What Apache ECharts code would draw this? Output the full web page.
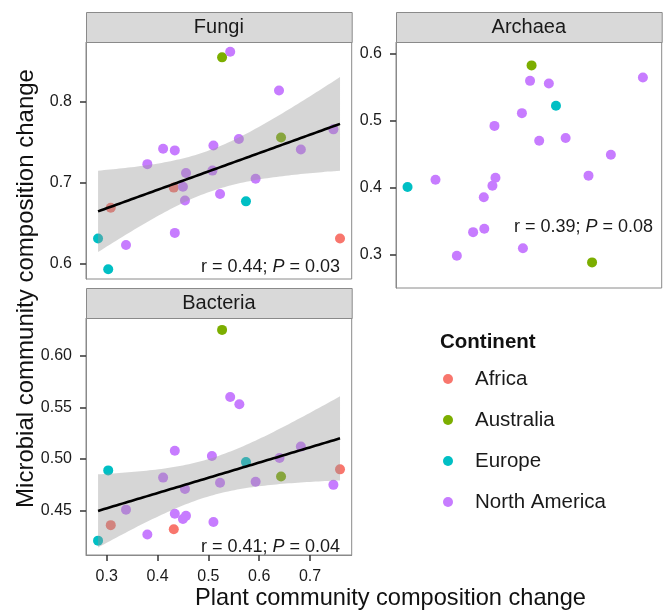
<!DOCTYPE html>
<html><head><meta charset="utf-8">
<script src="https://cdn.jsdelivr.net/npm/echarts@6/dist/echarts.min.js"></script>
<style>html,body{margin:0;padding:0;background:#fff}#c{width:668px;height:612px}</style>
</head><body><div id="c"></div>
<script>
// ---- data ----
const continents = ['Africa', 'Australia', 'Europe', 'North America'];
const continentColors = ['#F8766D', '#7CAE00', '#00BFC4', '#C77CFF'];

const fungiX = [0.543,0.527,0.639,0.746,0.643,0.411,0.434,0.510,0.560,0.682,0.380,0.456,0.508,0.450,0.432,0.593,0.523,0.454,0.574,0.308,0.434,0.283,0.338,0.759,0.303];
const fungiY = [0.862,0.855,0.814,0.766,0.756,0.742,0.740,0.746,0.754,0.741,0.723,0.712,0.715,0.695,0.694,0.705,0.686,0.678,0.677,0.669,0.638,0.631,0.623,0.631,0.593];
const fungiC = [3,1,3,3,1,3,3,3,3,3,3,3,3,3,0,3,3,3,2,0,3,2,3,0,2];

const archaeaX = [0.526,0.523,0.560,0.745,0.574,0.507,0.453,0.541,0.593,0.682,0.638,0.282,0.337,0.455,0.449,0.432,0.411,0.433,0.509,0.379,0.645];
const archaeaY = [0.582,0.559,0.555,0.564,0.522,0.511,0.492,0.470,0.474,0.449,0.418,0.401,0.412,0.415,0.403,0.386,0.334,0.339,0.310,0.299,0.289];
const archaeaC = [1,3,3,3,2,3,3,3,3,3,3,2,3,3,3,3,3,3,3,3,1];

const bacteriaX = [0.527,0.543,0.561,0.434,0.507,0.574,0.640,0.682,0.303,0.759,0.411,0.454,0.523,0.593,0.643,0.746,0.338,0.434,0.456,0.450,0.510,0.308,0.432,0.380,0.283];
const bacteriaY = [0.625,0.560,0.553,0.508,0.503,0.497,0.501,0.512,0.489,0.490,0.482,0.471,0.477,0.478,0.483,0.475,0.451,0.447,0.445,0.442,0.439,0.436,0.432,0.427,0.421];
const bacteriaC = [1,3,3,3,3,2,3,3,2,0,3,3,3,3,1,3,3,3,3,3,3,0,0,3,2];

const xTicks = [0.3, 0.4, 0.5, 0.6, 0.7];
const fungiTicks = [0.6, 0.7, 0.8];
const archaeaTicks = [0.3, 0.4, 0.5, 0.6];
const bacteriaTicks = [0.45, 0.50, 0.55, 0.60];

const xRange = [0.2593, 0.782];
const fungiRange = [0.581, 0.874];
const archaeaRange = [0.2509, 0.6168];
const bacteriaRange = [0.4071, 0.6365];

const panelNames = ['Fungi', 'Archaea', 'Bacteria'];
const statR = ['0.44', '0.39', '0.41'];
const statP = ['0.03', '0.08', '0.04'];
const showFit = [true, false, true];

// ---- layout ----
const FONT = '"Liberation Sans", Arial, Helvetica, sans-serif';
const grids = [
  {left: 86, top: 42, width: 265.7, height: 237},
  {left: 396, top: 42, width: 265.7, height: 246},
  {left: 86, top: 318, width: 265.7, height: 237}
];
const statPos = [[340, 267], [653, 227], [340, 547]];

const panelData = [
  {x: fungiX, y: fungiY, c: fungiC, ticks: fungiTicks, range: fungiRange, dec: 1},
  {x: archaeaX, y: archaeaY, c: archaeaC, ticks: archaeaTicks, range: archaeaRange, dec: 1},
  {x: bacteriaX, y: bacteriaY, c: bacteriaC, ticks: bacteriaTicks, range: bacteriaRange, dec: 2}
];

// linear model fit + 95% CI (like geom_smooth(method = "lm"))
function lmBand(xs, ys) {
  const n = xs.length;
  const mx = xs.reduce((a, b) => a + b, 0) / n;
  const my = ys.reduce((a, b) => a + b, 0) / n;
  let sxx = 0, sxy = 0;
  for (let i = 0; i < n; i++) { sxx += (xs[i] - mx) ** 2; sxy += (xs[i] - mx) * (ys[i] - my); }
  const b = sxy / sxx, a = my - b * mx;
  let sse = 0;
  for (let i = 0; i < n; i++) sse += (ys[i] - a - b * xs[i]) ** 2;
  const s = Math.sqrt(sse / (n - 2));
  const t = 2.0687; // qt(0.975, 23)
  const x0 = Math.min(...xs), x1 = Math.max(...xs);
  const fit = [], up = [], lo = [];
  const steps = 80;
  for (let k = 0; k <= steps; k++) {
    const x = x0 + (x1 - x0) * k / steps;
    const yh = a + b * x;
    const se = s * Math.sqrt(1 / n + (x - mx) ** 2 / sxx);
    fit.push([x, yh]); up.push([x, yh + t * se]); lo.push([x, yh - t * se]);
  }
  return {fit, up, lo};
}

const xAxes = [], yAxes = [], series = [], graphics = [];

panelData.forEach((p, gi) => {
  const isBottom = gi === 2;
  xAxes.push({
    type: 'value', gridIndex: gi, min: xRange[0], max: xRange[1],
    splitLine: {show: false},
    axisLine: {show: isBottom, lineStyle: {color: '#8a8a8a', width: 1}},
    axisTick: {show: isBottom, customValues: xTicks, length: 6, lineStyle: {color: '#333', width: 1.5}},
    axisLabel: {show: isBottom, customValues: xTicks, margin: 14, fontSize: 16, color: '#1a1a1a', fontFamily: FONT,
      formatter: v => v.toFixed(1)}
  });
  yAxes.push({
    type: 'value', gridIndex: gi, min: p.range[0], max: p.range[1],
    splitLine: {show: false},
    axisLine: {show: true, lineStyle: {color: '#8a8a8a', width: 1}},
    axisTick: {show: true, customValues: p.ticks, length: 6, lineStyle: {color: '#333', width: 1.5}},
    axisLabel: {customValues: p.ticks, margin: 14, fontSize: 16, color: '#1a1a1a', fontFamily: FONT,
      formatter: v => v.toFixed(p.dec)}
  });

  continents.forEach((cn, ci) => {
    const d = [];
    p.x.forEach((xv, i) => { if (p.c[i] === ci) d.push([xv, p.y[i]]); });
    series.push({
      type: 'scatter', name: cn, xAxisIndex: gi, yAxisIndex: gi, data: d,
      symbol: 'circle', symbolSize: 10, z: 2, silent: true,
      itemStyle: {color: continentColors[ci], opacity: 1}
    });
  });

  if (showFit[gi]) {
    const band = lmBand(p.x, p.y);
    series.push({
      type: 'custom', name: 'ci', xAxisIndex: gi, yAxisIndex: gi, z: 3, silent: true,
      data: [band.fit[0]],
      renderItem: function (params, api) {
        const pts = [];
        band.up.forEach(q => pts.push(api.coord(q)));
        band.lo.slice().reverse().forEach(q => pts.push(api.coord(q)));
        return {type: 'polygon', shape: {points: pts}, style: {fill: 'rgba(153,153,153,0.4)'}};
      }
    });
    series.push({
      type: 'line', name: 'fit', xAxisIndex: gi, yAxisIndex: gi, z: 4, silent: true,
      data: band.fit, showSymbol: false, symbol: 'none',
      lineStyle: {color: '#000', width: 2.6}
    });
  }

  const g = grids[gi];
  // strip
  graphics.push({
    type: 'rect', left: g.left, top: g.top - 30, z: 10,
    shape: {x: 0, y: 0, width: g.width, height: 30},
    style: {fill: '#D9D9D9', stroke: '#8a8a8a', lineWidth: 1}
  });
  graphics.push({
    type: 'text', x: g.left + g.width / 2, y: g.top - 15, z: 11,
    style: {text: panelNames[gi], fontSize: 20, fontFamily: FONT, fill: '#1a1a1a', align: 'center', verticalAlign: 'middle'}
  });
  // stat annotation
  graphics.push({
    type: 'text', x: statPos[gi][0], y: statPos[gi][1], z: 11,
    style: {
      text: '{n|r = ' + statR[gi] + '; }{i|P}{n| = ' + statP[gi] + '}',
      align: 'right', verticalAlign: 'middle',
      rich: {
        n: {fontSize: 18, fontFamily: FONT, fill: '#1a1a1a'},
        i: {fontSize: 18, fontFamily: FONT, fontStyle: 'italic', fill: '#1a1a1a'}
      }
    }
  });
});

// axis titles
graphics.push({
  type: 'text', x: 390.5, y: 598, z: 11,
  style: {text: 'Plant community composition change', fontSize: 23.6, fontFamily: FONT, fill: '#111', align: 'center', verticalAlign: 'middle'}
});
graphics.push({
  type: 'text', x: 26, y: 288.5, rotation: Math.PI / 2, z: 11,
  style: {text: 'Microbial community composition change', fontSize: 24, fontFamily: FONT, fill: '#111', align: 'center', verticalAlign: 'middle'}
});
// legend title
graphics.push({
  type: 'text', x: 440, y: 342, z: 11,
  style: {text: 'Continent', fontSize: 20.5, fontWeight: 'bold', fontFamily: FONT, fill: '#111', align: 'left', verticalAlign: 'middle'}
});

const chart = echarts.init(document.getElementById('c'), null, {renderer: 'canvas'});
chart.setOption({
  animation: false,
  backgroundColor: '#fff',
  grid: grids.map(g => Object.assign({show: true, borderColor: '#8a8a8a', borderWidth: 1, backgroundColor: '#fff'}, g)),
  xAxis: xAxes,
  yAxis: yAxes,
  legend: {
    data: continents, orient: 'vertical', left: 443, top: 368, padding: 0,
    icon: 'circle', itemWidth: 10, itemHeight: 10, itemGap: 19, selectedMode: false,
    textStyle: {fontSize: 20.5, fontFamily: FONT, color: '#1a1a1a', lineHeight: 22, padding: [0, 0, 0, 17]}
  },
  series: series,
  graphic: graphics
});
</script></body></html>
